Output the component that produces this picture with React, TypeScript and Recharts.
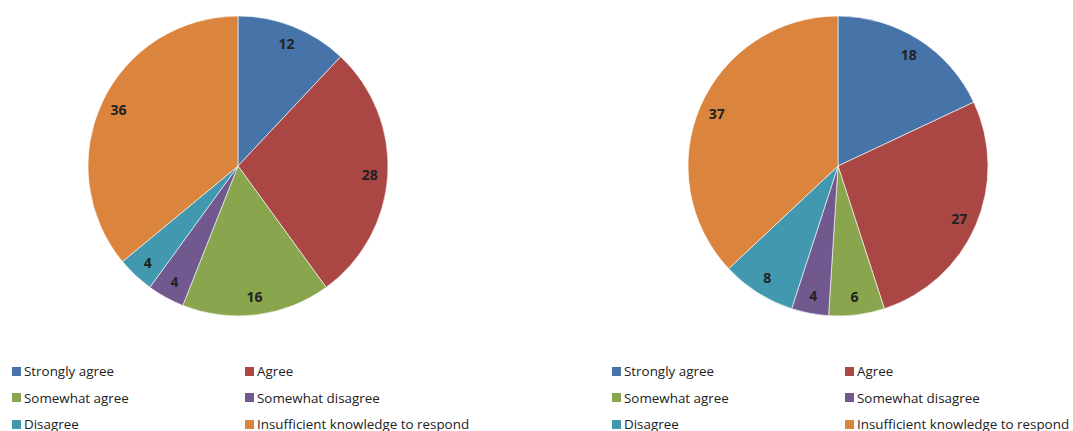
import React from "react";
import { PieChart, Pie, Cell } from "recharts";

const categories = [
  "Strongly agree",
  "Agree",
  "Somewhat agree",
  "Somewhat disagree",
  "Disagree",
  "Insufficient knowledge to respond",
];
const leftValues = [12, 28, 16, 4, 4, 36];
const rightValues = [18, 27, 6, 4, 8, 37];
const colors = ["#4674a9", "#aa4744", "#89a54e", "#71588f", "#4198af", "#db843d"];

const leftData = categories.map((name, i) => ({ name, value: leftValues[i] }));
const rightData = categories.map((name, i) => ({ name, value: rightValues[i] }));

const RADIAN = Math.PI / 180;
const FONT = "'Open Sans', sans-serif";

const renderLabel = (props: any) => {
  const { cx, cy, midAngle, outerRadius, value } = props;
  const r = outerRadius * 0.88;
  const x = cx + r * Math.cos(-midAngle * RADIAN);
  const y = cy + r * Math.sin(-midAngle * RADIAN);
  return (
    <text
      x={x}
      y={y}
      textAnchor="middle"
      dominantBaseline="central"
      fill="#222"
      fontSize={14}
      fontWeight={700}
      fontFamily={FONT}
    >
      {value}
    </text>
  );
};

function LegendBlock({ left }: { left: number }) {
  const cols = [0, 233];
  return (
    <>
      {categories.map((name, i) => {
        const col = i % 2;
        const row = Math.floor(i / 2);
        return (
          <div
            key={name}
            style={{
              position: "absolute",
              left: left + cols[col],
              top: 362 + row * 26.5,
              display: "flex",
              alignItems: "center",
              fontFamily: FONT,
              fontSize: 13.4,
              color: "#222",
              whiteSpace: "nowrap",
              lineHeight: "18px",
            }}
          >
            <span
              style={{
                display: "inline-block",
                width: 9,
                height: 9,
                background: colors[i],
                marginRight: 3,
              }}
            />
            {name}
          </div>
        );
      })}
    </>
  );
}

export default function App() {
  return (
    <div style={{ position: "absolute", left: 0, top: 0, width: 1073, height: 431, background: "#fff", overflow: "hidden" }}>
      <PieChart width={1073} height={431} margin={{ top: 0, right: 0, bottom: 0, left: 0 }}>
        <Pie
          data={leftData}
          dataKey="value"
          nameKey="name"
          cx={238}
          cy={166}
          outerRadius={150}
          startAngle={90}
          endAngle={-270}
          stroke="#fff"
          strokeWidth={0.6}
          label={renderLabel}
          labelLine={false}
          isAnimationActive={false}
        >
          {leftData.map((d, i) => (
            <Cell key={d.name} fill={colors[i]} />
          ))}
        </Pie>
        <Pie
          data={rightData}
          dataKey="value"
          nameKey="name"
          cx={838}
          cy={166}
          outerRadius={150}
          startAngle={90}
          endAngle={-270}
          stroke="#fff"
          strokeWidth={0.6}
          label={renderLabel}
          labelLine={false}
          isAnimationActive={false}
        >
          {rightData.map((d, i) => (
            <Cell key={d.name} fill={colors[i]} />
          ))}
        </Pie>
      </PieChart>
      <LegendBlock left={12} />
      <LegendBlock left={612} />
    </div>
  );
}
